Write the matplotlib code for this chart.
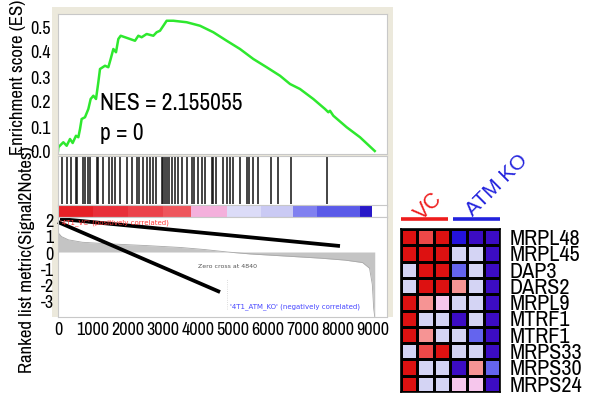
import numpy as np
import matplotlib
matplotlib.use("Agg")
import matplotlib.pyplot as plt
from matplotlib.colors import ListedColormap, BoundaryNorm

NARROW = ['Archivo Narrow', 'Liberation Sans Narrow', 'DejaVu Sans']
plt.rcParams['font.family'] = NARROW

# running enrichment score
es_x = [0, 10, 152, 248, 343, 419, 514, 581, 629, 676, 771, 867, 933, 1010, 1086, 1152,
        1200, 1343, 1438, 1505, 1581, 1657, 1724, 1791, 1914, 2057, 2200, 2295, 2390,
        2533, 2724, 2819, 2914, 3010, 3105, 3295, 3676, 3867, 4057, 4438, 4819, 5200,
        5581, 5962, 6343, 6629, 6914, 7295, 7629, 7724, 7771, 7867, 8248, 8629, 9050]
es_y = [0.0, 0.015, 0.035, 0.021, 0.048, 0.032, 0.061, 0.055, 0.088, 0.128, 0.135, 0.168,
        0.208, 0.221, 0.208, 0.275, 0.328, 0.341, 0.335, 0.368, 0.408, 0.395, 0.448, 0.461,
        0.455, 0.448, 0.441, 0.461, 0.455, 0.468, 0.461, 0.475, 0.481, 0.501, 0.521, 0.521,
        0.515, 0.508, 0.501, 0.475, 0.441, 0.408, 0.368, 0.335, 0.301, 0.268, 0.248, 0.208,
        0.168, 0.155, 0.161, 0.141, 0.095, 0.055, 0.0]

# gene set hits along the ranked list
hits = [106, 249, 363, 514, 551, 723, 771, 866, 914, 1106, 1151, 1294, 1466, 1534, 1629,
        1771, 1963, 2106, 2266, 2323, 2437, 2534, 2629, 2723, 2800, 2963, 3009, 3057, 3106,
        3180, 3249, 3343, 3437, 3534, 3677, 3820, 3886, 4009, 4106, 4200, 4391, 4437, 4506,
        4723, 4820, 4914, 4991, 5200, 5391, 5466, 5580, 5723, 6077, 6277, 6649, 7677]

# ranked list metric
rank_x = [0, 100, 300, 700, 1500, 2500, 3500, 4200, 4840, 5500, 6500, 7500, 8200, 8700,
          8900, 8980, 9020, 9050]
rank_y = [1.2, 0.95, 0.75, 0.6, 0.5, 0.4, 0.28, 0.15, 0.0, -0.12, -0.25, -0.38, -0.5,
          -0.65, -1.0, -2.0, -3.5, -4.0]
zero_cross = 4840

# colour bar segments of the ranked list
bar_starts = [0, 1000, 2000, 3000, 3790, 4840, 5800, 6720, 7400, 8630]
bar_ends = [1000, 2000, 3000, 3790, 4840, 5800, 6720, 7400, 8630, 8970]
bar_colors = ['#e62026', '#e8303a', '#eb424a', '#ee565c', '#f4b0dc', '#dcdcf8', '#cacaf4',
              '#8080f0', '#5a5ae8', '#2818c8']

es_ticks = [0.0, 0.1, 0.2, 0.3, 0.4, 0.5]
rank_ticks = [2, 1, 0, -1, -2, -3]
x_ticks = [0, 1000, 2000, 3000, 4000, 5000, 6000, 7000, 8000, 9000]

# heatmap, codes -4 (dark blue) .. 3 (red)
genes = ['MRPL48', 'MRPL45', 'DAP3', 'DARS2', 'MRPL9', 'MTRF1', 'MTRF1', 'MRPS33',
         'MRPS30', 'MRPS24']
heat = [[3, 2, 3, -3, -4, -4],
        [3, 3, 3, -1, -1, -4],
        [-1, 3, 3, -2, -1, -4],
        [-1, 3, 3, 1, -1, -4],
        [3, 1, 0, -1, -1, -4],
        [3, -1, -1, -4, -1, -4],
        [3, 1, -1, -1, -2, -4],
        [-1, 2, 3, -1, -1, -4],
        [3, -1, -1, -4, 1, -2],
        [3, -1, -1, 0, 0, -4]]
heat_colors = ['#3c0cc4', '#2412dc', '#6464ee', '#d4d4f4', '#f6c6ec', '#f69494',
               '#ee4848', '#dd1111']

W, H = 596, 402


def px_box(x0, y0, x1, y1):
    return [x0 / W, 1 - y1 / H, (x1 - x0) / W, (y1 - y0) / H]


fig = plt.figure(figsize=(W / 100, H / 100), dpi=100)

bg = fig.add_axes(px_box(52, 8, 393, 318))
bg.set_facecolor('#ece9dc')
bg.set_xticks([])
bg.set_yticks([])
for s in bg.spines.values():
    s.set_visible(False)

xmax = 9400
frame_col = '#c8c8c8'

# ES panel
ax_es = fig.add_axes(px_box(58, 15, 387, 155))
ax_es.plot(es_x, es_y, color='#2ee82e', lw=1.8)
ax_es.set_xlim(0, xmax)
ax_es.set_ylim(-0.012, 0.548)
ax_es.set_xticks([])
ax_es.set_yticks(es_ticks)
ax_es.set_yticklabels([f'{t:.1f}' for t in es_ticks], fontsize=13)
ax_es.tick_params(length=0, pad=5)
for s in ax_es.spines.values():
    s.set_color(frame_col)
ax_es.text(1200, 0.196, 'NES = 2.155055', fontsize=17, va='center')
ax_es.text(1200, 0.076, 'p = 0', fontsize=17, va='center')

# hit panel
ax_hit = fig.add_axes(px_box(58, 157, 387, 207))
ax_hit.vlines(hits, 0.05, 1, color='#111111', lw=1.1)
ax_hit.set_xlim(0, xmax)
ax_hit.set_ylim(0, 1)
ax_hit.set_xticks([])
ax_hit.set_yticks([])
for s in ax_hit.spines.values():
    s.set_color(frame_col)

# colour bar
ax_bar = fig.add_axes(px_box(58, 206, 387, 218))
ax_bar.broken_barh([(a, b - a) for a, b in zip(bar_starts, bar_ends)], (0, 1),
                   facecolors=bar_colors)
ax_bar.set_xlim(0, xmax)
ax_bar.set_ylim(0, 1)
ax_bar.set_xticks([])
ax_bar.set_yticks([])
for s in ax_bar.spines.values():
    s.set_color(frame_col)

# ranked list metric
ax_rank = fig.add_axes(px_box(58, 218, 387, 318))
ax_rank.fill_between(rank_x, rank_y, 0, color='#c4c4c4', lw=0)
ax_rank.plot(rank_x, rank_y, color='#a8a8a8', lw=0.6)
ax_rank.axvline(zero_cross, ymin=0.08, ymax=0.38, color='#d0d0d0', lw=0.6, ls=':')
ax_rank.set_xlim(0, xmax)
ax_rank.set_ylim(-4.01, 2.16)
ax_rank.set_yticks(rank_ticks)
ax_rank.set_yticklabels([str(t) for t in rank_ticks], fontsize=13)
ax_rank.set_xticks(x_ticks)
ax_rank.set_xticklabels([str(t) for t in x_ticks], fontsize=13)
ax_rank.tick_params(length=0, pad=3)
for s in ax_rank.spines.values():
    s.set_color(frame_col)
ax_rank.text(60, 1.9, "'4T1_VC' (positively correlated)", color='#ff3838', fontsize=5,
             va='center', family='DejaVu Sans')
ax_rank.text(8630, -3.33, "'4T1_ATM_KO' (negatively correlated)", color='#4848ff',
             fontsize=5, va='center', ha='right', family='DejaVu Sans')
ax_rank.text(zero_cross, -0.86, 'Zero cross at 4840', color='#555555', fontsize=4.5,
             va='center', ha='center', family='DejaVu Sans')
# pointer lines
ax_rank.plot([57, 8057], [2.04, 0.37], color='black', lw=2.7, clip_on=False,
             solid_capstyle='butt')
ax_rank.plot([0, 4630], [1.85, -2.47], color='black', lw=2.7, clip_on=False,
             solid_capstyle='butt')

fig.text(18 / W, 1 - 77 / H, 'Enrichment score (ES)', rotation=90, fontsize=13.5,
         ha='center', va='center')
fig.text(27 / W, 1 - 260 / H, 'Ranked list metric(Signal2Notes)', rotation=90,
         fontsize=13.5, ha='center', va='center')

# heatmap
ax_hm = fig.add_axes(px_box(401, 230, 500, 393))
cmap = ListedColormap(heat_colors)
norm = BoundaryNorm(np.arange(-4.5, 4.0, 1.0), cmap.N)
ax_hm.pcolormesh(np.array(heat), cmap=cmap, norm=norm, edgecolors='black', lw=0.8)
ax_hm.set_xlim(0, 6)
ax_hm.set_ylim(10, 0)
ax_hm.set_xticks([])
ax_hm.set_yticks([])
for s in ax_hm.spines.values():
    s.set_linewidth(1.2)
for i, g in enumerate(genes):
    ax_hm.text(6.6, i + 0.55, g, fontsize=16, fontweight='medium', va='center',
               ha='left', clip_on=False)
ax_hm.plot([0, 2.85], [-0.6, -0.6], color='#ee1c1c', lw=2.6, clip_on=False,
           solid_capstyle='butt')
ax_hm.plot([3.15, 6], [-0.6, -0.6], color='#2222dd', lw=2.6, clip_on=False,
           solid_capstyle='butt')
ax_hm.text(1.7, -1.45, 'VC', color='#ee1c1c', fontsize=15.5, rotation=45, ha='center',
           va='center', family=['Liberation Sans', 'DejaVu Sans'], clip_on=False)
ax_hm.text(5.8, -2.76, 'ATM KO', color='#2222dd', fontsize=15, rotation=45,
           ha='center', va='center', family=['Liberation Sans', 'DejaVu Sans'],
           clip_on=False)

fig.savefig('out.png', dpi=100)
